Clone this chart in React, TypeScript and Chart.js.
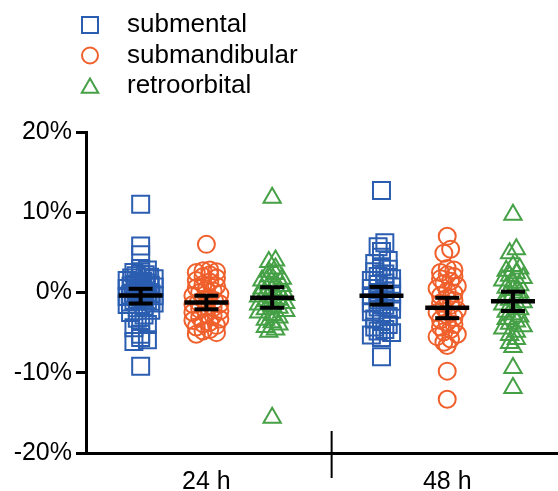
import React, { useEffect, useRef } from 'react';
import { Chart, registerables } from 'chart.js';

Chart.register(...registerables);

// ---------- data ----------
const SERIES = ['submental', 'submandibular', 'retroorbital'];
const TIME_LABELS = ['24 h', '48 h'];
const TIME_POS = [1, 2];
const GROUP_OFFSETS = [-0.273, 0, 0.273];
const DIVIDER = 1.52;
const Y_TICKS = [-20, -10, 0, 10, 20];

const SUBMENTAL_24H = [11.0, 5.8, 4.7, 3.0, 2.8, 2.5, 2.3, 2.2, 2.1, 1.9, 1.8, 1.7, 1.5, 1.4, 1.3, 1.2, 1.0, 0.9, 0.8, 0.7, 0.5, 0.4, 0.3, 0.2, 0.1, 0.0, -0.1, -0.2, -0.3, -0.4, -0.5, -0.6, -0.7, -0.8, -0.9, -1.0, -1.1, -1.2, -1.3, -1.5, -1.7, -1.9, -2.2, -2.5, -2.8, -3.2, -3.6, -4.0, -4.4, -5.2, -5.6, -5.9, -6.1, -9.2];
const SUBMANDIBULAR_24H = [6.0, 2.8, 2.7, 2.6, 2.5, 2.2, 2.0, 1.8, 1.5, 1.3, 1.0, 0.8, 0.6, 0.4, 0.2, 0.0, -0.2, -0.4, -0.6, -0.8, -1.0, -1.2, -1.4, -1.5, -1.7, -1.9, -2.1, -2.3, -2.5, -2.7, -2.9, -3.1, -3.3, -3.5, -3.7, -3.9, -4.1, -4.3, -4.6, -4.8, -5.0, -5.2];
const RETROORBITAL_24H = [11.8, 4.0, 3.8, 3.0, 2.6, 2.3, 2.0, 1.7, 1.5, 1.2, 1.0, 0.8, 0.5, 0.3, 0.1, -0.1, -0.3, -0.5, -0.7, -0.9, -1.1, -1.3, -1.5, -1.7, -1.9, -2.1, -2.3, -2.5, -2.8, -3.1, -3.4, -3.7, -4.0, -4.3, -4.6, -4.9, -15.6];
const SUBMENTAL_48H = [12.7, 6.2, 5.7, 5.1, 4.4, 4.0, 3.6, 3.2, 2.9, 2.6, 2.3, 2.0, 1.7, 1.5, 1.2, 1.0, 0.7, 0.5, 0.2, 0.0, -0.2, -0.4, -0.6, -0.9, -1.1, -1.3, -1.6, -1.8, -2.1, -2.4, -2.7, -3.0, -3.3, -3.6, -4.0, -4.3, -4.6, -4.8, -5.0, -5.3, -5.6, -8.0];
const SUBMANDIBULAR_48H = [7.0, 5.4, 4.9, 3.0, 2.8, 2.5, 2.2, 2.0, 1.7, 1.4, 1.1, 0.8, 0.5, 0.2, -0.1, -0.4, -0.7, -1.0, -1.3, -1.6, -1.9, -2.2, -2.5, -2.8, -3.1, -3.4, -3.7, -4.0, -4.3, -4.6, -4.9, -5.2, -5.5, -5.8, -6.2, -6.6, -9.8, -13.3];
const RETROORBITAL_48H = [9.7, 5.4, 4.9, 3.3, 3.0, 2.7, 2.4, 2.1, 1.8, 1.5, 1.2, 0.9, 0.6, 0.3, 0.0, -0.3, -0.6, -0.9, -1.2, -1.5, -1.8, -2.1, -2.4, -2.7, -3.0, -3.3, -3.6, -3.9, -4.2, -4.5, -4.9, -5.3, -5.8, -6.3, -6.8, -9.4, -11.9];

// mean and error bar ends (submental, submandibular, retroorbital)
const MEAN_24H = [-0.37, -1.25, -0.66];
const UPPER_24H = [0.46, -0.4, 0.66];
const LOWER_24H = [-1.37, -2.1, -1.9];
const MEAN_48H = [-0.4, -1.9, -1.1];
const UPPER_48H = [0.7, -0.66, 0.1];
const LOWER_48H = [-1.5, -3.2, -2.3];

// ---------- styles ----------
const FONT = '"Liberation Sans", Arial, Helvetica, sans-serif';
const COLORS = ['#2b5db0', '#f0602c', '#45a046'];
const POINT_STYLES = ['rect', 'circle', 'triangle'];
const POINT_RADII = [12, 8.5, 10];

const VALUES_24H = [SUBMENTAL_24H, SUBMANDIBULAR_24H, RETROORBITAL_24H];
const VALUES_48H = [SUBMENTAL_48H, SUBMANDIBULAR_48H, RETROORBITAL_48H];
const MEANS = [MEAN_24H, MEAN_48H];
const UPPERS = [UPPER_24H, UPPER_48H];
const LOWERS = [LOWER_24H, LOWER_48H];

// simple beeswarm layout: bin values into rows and spread each row horizontally
const BIN = 1.0;
const STEP = 0.028;
const MAX_HALF = 0.056;
function swarm(values: number[], center: number) {
  const bins = new Map<number, number[]>();
  values.forEach((v) => {
    const b = Math.round(v / BIN);
    if (!bins.has(b)) bins.set(b, []);
    bins.get(b)!.push(v);
  });
  const pts: { x: number; y: number }[] = [];
  bins.forEach((arr) => {
    arr.sort((a, b) => a - b);
    const n = arr.length;
    const step = n > 1 ? Math.min(STEP, (2 * MAX_HALF) / (n - 1)) : 0;
    const slots = Array.from({ length: n }, (_, i) => (i - (n - 1) / 2) * step);
    const order: number[] = [];
    let l = 0, r = n - 1;
    while (l <= r) {
      order.push(l++);
      if (l <= r) order.push(r--);
    }
    arr.forEach((v, i) => pts.push({ x: center + slots[order[i]], y: v }));
  });
  return pts;
}

const dividerPlugin = {
  id: 'divider',
  afterDraw(chart: any) {
    const { ctx, chartArea, scales } = chart;
    const px = scales.x.getPixelForValue(DIVIDER);
    ctx.save();
    ctx.strokeStyle = '#000';
    ctx.lineWidth = 2;
    ctx.beginPath();
    ctx.moveTo(px, chartArea.bottom - 22);
    ctx.lineTo(px, chartArea.bottom + 25);
    ctx.stroke();
    ctx.restore();
  },
};

const legendPlugin = {
  id: 'groupLegend',
  afterDraw(chart: any) {
    const { ctx } = chart;
    ctx.save();
    SERIES.forEach((name, s) => {
      const cy = 25 + s * 30.5;
      const cx = 90;
      ctx.strokeStyle = COLORS[s];
      ctx.lineWidth = 2;
      ctx.beginPath();
      if (s === 0) {
        ctx.rect(cx - 8, cy - 8, 16, 16);
      } else if (s === 1) {
        ctx.arc(cx, cy, 8, 0, Math.PI * 2);
      } else {
        const r = 9.5;
        const ty = cy + 2;
        ctx.moveTo(cx, ty - r);
        ctx.lineTo(cx + r * 0.866, ty + r / 2);
        ctx.lineTo(cx - r * 0.866, ty + r / 2);
        ctx.closePath();
      }
      ctx.stroke();
      ctx.fillStyle = '#000';
      ctx.font = `26px ${FONT}`;
      ctx.textAlign = 'left';
      ctx.textBaseline = 'middle';
      ctx.fillText(name, 127, cy);
    });
    ctx.restore();
  },
};

export default function App() {
  const ref = useRef<HTMLCanvasElement>(null);
  useEffect(() => {
    const pointSets = SERIES.map((name, s) => ({
      type: 'scatter',
      label: name,
      data: [
        ...swarm(VALUES_24H[s], TIME_POS[0] + GROUP_OFFSETS[s]),
        ...swarm(VALUES_48H[s], TIME_POS[1] + GROUP_OFFSETS[s]),
      ],
      pointStyle: POINT_STYLES[s],
      pointRadius: POINT_RADII[s],
      pointBorderColor: COLORS[s],
      pointBackgroundColor: 'rgba(0,0,0,0)',
      pointBorderWidth: 2,
      borderColor: COLORS[s],
      backgroundColor: 'rgba(0,0,0,0)',
      order: 1,
    }));

    const meanData: any[] = [];
    const capData: any[] = [];
    const whiskerData: any[] = [];
    TIME_POS.forEach((t, ti) => {
      SERIES.forEach((_, s) => {
        const x = t + GROUP_OFFSETS[s];
        meanData.push({ x, y: MEANS[ti][s] });
        capData.push({ x, y: UPPERS[ti][s] });
        capData.push({ x, y: LOWERS[ti][s] });
        whiskerData.push({ x, y: LOWERS[ti][s] });
        whiskerData.push({ x, y: UPPERS[ti][s] });
        whiskerData.push({ x, y: null });
      });
    });

    const summarySets = [
      {
        type: 'scatter',
        label: 'mean',
        data: meanData,
        pointStyle: 'line',
        pointRadius: 22,
        pointBorderWidth: 4.5,
        pointBorderColor: '#000',
        borderColor: '#000',
        order: 0,
      },
      {
        type: 'scatter',
        label: 'caps',
        data: capData,
        pointStyle: 'line',
        pointRadius: 12,
        pointBorderWidth: 4,
        pointBorderColor: '#000',
        borderColor: '#000',
        order: 0,
      },
      {
        type: 'scatter',
        label: 'whiskers',
        data: whiskerData,
        showLine: true,
        spanGaps: false,
        borderColor: '#000',
        borderWidth: 4,
        pointRadius: 0,
        order: 0,
      },
    ];

    const chart = new Chart(ref.current as HTMLCanvasElement, {
      type: 'scatter',
      data: { datasets: [...summarySets, ...pointSets] as any },
      options: {
        animation: false,
        responsive: true,
        maintainAspectRatio: false,
        events: [],
        layout: { autoPadding: false, padding: { top: 132, left: 0, right: 0, bottom: 0 } },
        plugins: {
          legend: { display: false },
          tooltip: { enabled: false },
        },
        scales: {
          x: {
            type: 'linear',
            min: 0.5,
            max: 2.46,
            afterBuildTicks: (scale: any) => {
              scale.ticks = TIME_POS.map((v) => ({ value: v }));
            },
            afterFit: (scale: any) => {
              scale.height = 38;
              scale.paddingLeft = 0;
              scale.paddingRight = 0;
            },
            ticks: {
              callback: (_v: any, i: number) => TIME_LABELS[i],
              font: { family: FONT, size: 25 },
              color: '#000',
              padding: 6,
              maxRotation: 0,
              autoSkip: false,
            },
            grid: { display: false },
            border: { display: true, color: '#000', width: 3 },
          },
          y: {
            type: 'linear',
            min: -20,
            max: 20,
            afterBuildTicks: (scale: any) => {
              scale.ticks = Y_TICKS.map((v) => ({ value: v }));
            },
            afterFit: (scale: any) => {
              scale.width = 86;
            },
            ticks: {
              callback: (v: any) => `${v}%`,
              font: { family: FONT, size: 25 },
              color: '#000',
              padding: 4,
            },
            grid: {
              display: true,
              drawOnChartArea: false,
              drawTicks: true,
              tickLength: 10,
              tickWidth: 3,
              tickColor: '#000',
            },
            border: { display: true, color: '#000', width: 3 },
          },
        },
      },
      plugins: [dividerPlugin, legendPlugin],
    } as any);
    return () => chart.destroy();
  }, []);

  return (
    <div style={{ position: 'fixed', left: 0, top: 0, width: 558, height: 491, background: '#fff' }}>
      <canvas ref={ref} />
    </div>
  );
}
